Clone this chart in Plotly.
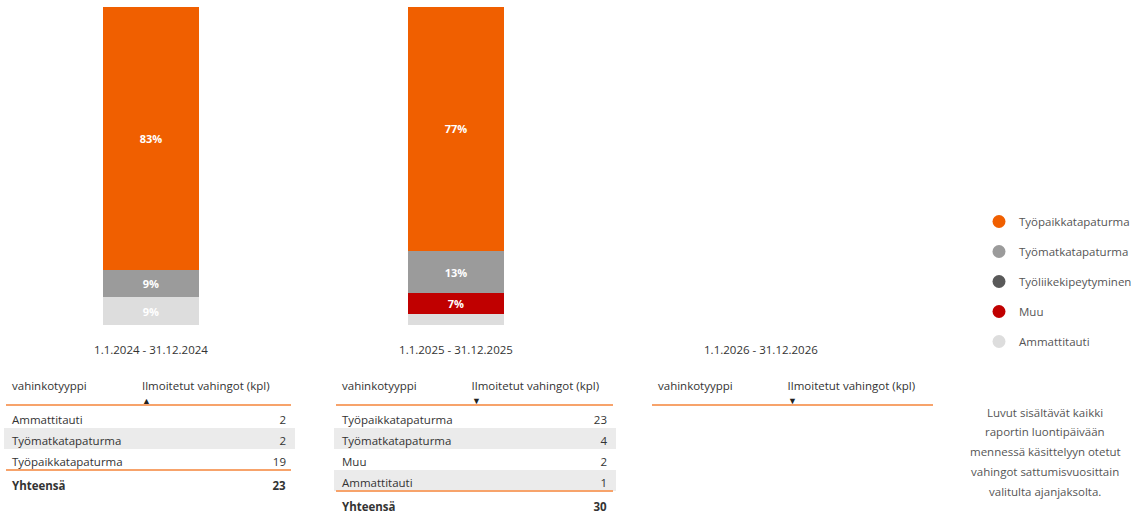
import plotly.graph_objects as go

# -----------------------------------------------------
# DATA
# -----------------------------------------------------

periods = ["1.1.2024 - 31.12.2024", "1.1.2025 - 31.12.2025", "1.1.2026 - 31.12.2026"]

# stacked bottom -> top
types = ["Ammattitauti", "Muu", "Työliikekipeytyminen", "Työmatkatapaturma", "Työpaikkatapaturma"]
ammattitauti = [2, 1, 0]
muu = [0, 2, 0]
tyoliike = [0, 0, 0]
tyomatka = [2, 4, 0]
tyopaikka = [19, 23, 0]

colors = ["#DDDDDD", "#C00000", "#595959", "#9B9B9B", "#F05F00"]
sort_dirs = ["asc", "desc", "desc"]

note_lines = ["Luvut sisältävät kaikki", "raportin luontipäivään", "mennessä käsittelyyn otetut",
              "vahingot sattumisvuosittain", "valitulta ajanjaksolta."]

series = [ammattitauti, muu, tyoliike, tyomatka, tyopaikka]
totals = [sum(s[i] for s in series) for i in range(len(periods))]

FONT = "Open Sans"
TXT = "#333333"
ORANGE_LINE = "#F7A36B"
W, H = 1147, 513

fig = go.Figure()

# -----------------------------------------------------
# STACKED 100% BARS
# -----------------------------------------------------

for name, vals, col in zip(types, series, colors):
    labels = []
    for v, t in zip(vals, totals):
        pct = 100 * v / t if t else 0
        labels.append(f"{pct:.0f}%" if pct >= 5 else "")
    fig.add_trace(go.Bar(
        x=periods, y=vals, name=name, marker=dict(color=col, line=dict(width=0)),
        text=labels, textposition="inside", insidetextanchor="middle",
        textfont=dict(color="white", size=11, family=FONT, weight="bold"),
        width=0.315, showlegend=False, hoverinfo="skip",
    ))

# legend with round markers (top of stack listed first)
for name, col in zip(types[::-1], colors[::-1]):
    fig.add_trace(go.Scatter(
        x=[None], y=[None], mode="markers", name=name, legendgroup=name,
        marker=dict(color=col, size=13, symbol="circle"),
    ))

# -----------------------------------------------------
# TABLES
# -----------------------------------------------------

table_px = [(4, 294), (334, 616), (650, 936)]
col1_w = 130
header_h = 34
row_h = 21
top_px = 373

for i, (p0, p1) in enumerate(table_px):
    x0, x1 = p0 / W, p1 / W
    rows = [(n, s[i]) for n, s in zip(types, series) if s[i] > 0]
    rows.sort(key=lambda r: r[1], reverse=(sort_dirs[i] == "desc"))
    names = [r[0] for r in rows]
    vals = [str(r[1]) for r in rows]
    fills = ["white" if k % 2 == 0 else "#EBEBEB" for k in range(len(rows))]
    if rows:
        names.append("<b>Yhteensä</b>")
        vals.append(f"<b>{totals[i]}</b>")
        fills.append("white")

    fig.add_trace(go.Table(
        domain=dict(x=[x0, x1], y=[0, 1 - top_px / H]),
        columnwidth=[col1_w, (p1 - p0) - col1_w],
        header=dict(
            values=["vahinkotyyppi", "Ilmoitetut vahingot (kpl)"],
            align=["left", "left"], height=header_h,
            fill_color="white", line=dict(color="white", width=1),
            font=dict(family=FONT, size=11.5, color=TXT),
        ),
        cells=dict(
            values=[names, vals], align=["left", "right"], height=row_h,
            fill_color=[fills, fills], line=dict(color=[fills, fills], width=1),
            font=dict(family=FONT, size=11.5, color=TXT),
        ),
    ))

    # orange rule under header, and above the total row
    y_head = 1 - (top_px + header_h - 2) / H
    fig.add_shape(type="line", xref="paper", yref="paper", x0=(p0 + 2) / W, x1=(p1 - 3) / W,
                  y0=y_head, y1=y_head, line=dict(color=ORANGE_LINE, width=2))
    if rows:
        y_tot = 1 - (top_px + header_h + row_h * len(rows)) / H
        fig.add_shape(type="line", xref="paper", yref="paper", x0=(p0 + 2) / W, x1=(p1 - 3) / W,
                      y0=y_tot, y1=y_tot, line=dict(color=ORANGE_LINE, width=2))

    # sort indicator under the value column header
    arrow = "▲" if sort_dirs[i] == "asc" else "▼"
    fig.add_annotation(x=(p0 + col1_w + 12) / W, y=1 - 400 / H,
                       xref="paper", yref="paper", xanchor="center", yanchor="middle",
                       text=arrow, showarrow=False, font=dict(size=9, color="#222222"))

# -----------------------------------------------------
# NOTE
# -----------------------------------------------------

for k, line in enumerate(note_lines):
    fig.add_annotation(
        x=1045 / W, y=1 - (412 + 19.8 * k) / H, xref="paper", yref="paper",
        xanchor="center", yanchor="middle", showarrow=False, text=line,
        font=dict(family=FONT, size=11.5, color="#555555"),
    )

fig.update_layout(
    width=W, height=H,
    margin=dict(l=0, r=0, t=0, b=0, autoexpand=False),
    paper_bgcolor="white", plot_bgcolor="white",
    barmode="stack", barnorm="percent",
    font=dict(family=FONT, size=12, color=TXT),
    xaxis=dict(domain=[0, 0.7977], range=[-0.495, 2.505], showgrid=False, zeroline=False,
               showline=False, ticks="", ticklabelstandoff=16, automargin=False,
               tickfont=dict(family=FONT, size=11.5, color=TXT)),
    yaxis=dict(domain=[1 - 325 / H, 1 - 7 / H], range=[0, 100], visible=False),
    legend=dict(x=979 / W, y=1 - 207 / H, xanchor="left", yanchor="top",
                font=dict(family=FONT, size=11.5, color="#555555"),
                traceorder="grouped", tracegroupgap=11, itemwidth=30),
    showlegend=True,
)

# page body has a default 8px margin; drop it so the figure sits at the window origin
fig.write_html("out.html", config={"displayModeBar": False},
               post_script="document.body.style.margin='0';")
